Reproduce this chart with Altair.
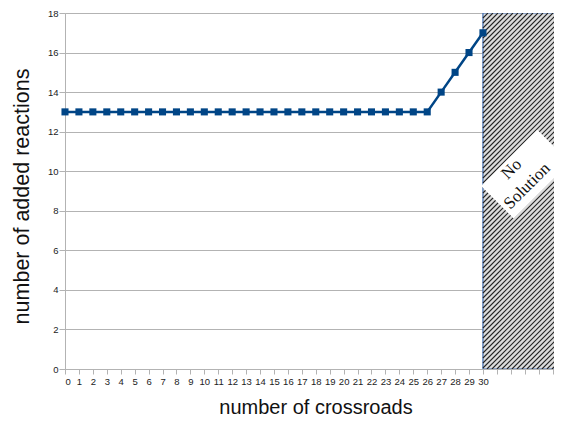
import altair as alt
import pandas as pd

# data
crossroads = list(range(0, 31))
added_reactions = [13] * 27 + [14, 15, 16, 17]
x_tick_values = list(range(0, 36))
y_tick_values = list(range(0, 19, 2))
note_lines = ["No", "Solution"]

X_MAX = 35.1
Y_MAX = 18
W, H = 489, 356
NO_SOL_START = 30

df = pd.DataFrame({"x": crossroads, "y": added_reactions})

xscale = alt.Scale(domain=[0, X_MAX], nice=False, zero=False)
yscale = alt.Scale(domain=[0, Y_MAX], nice=False)

# hatched "no solution" region
region = pd.DataFrame({"x": [NO_SOL_START], "x2": [X_MAX + 1], "y": [0], "y2": [Y_MAX]})

# hatch lines (45 degree decoration), computed in pixel space then mapped to data
px_per_x = W / X_MAX
px_per_y = H / Y_MAX
x0_px = NO_SOL_START * px_per_x
hatch = []
spacing = 5.0
p = x0_px - H
while p < W + 10:
    sx, sy = p, 0.0
    ex, ey = p + H, H
    if sx < x0_px:
        sy = x0_px - sx
        sx = x0_px
    if sy < H:
        hatch.append({"x": sx / px_per_x, "y": sy / px_per_y,
                      "x2": ex / px_per_x, "y2": ey / px_per_y})
    p += spacing
hatch_df = pd.DataFrame(hatch)

x_axis = alt.Axis(values=x_tick_values, title="number of crossroads",
                  labelExpr="datum.value <= 30 ? datum.label : ''",
                  labelOverlap=False, grid=False, domainColor="#b3b3b3",
                  tickColor="#b3b3b3", tickSize=5, labelFontSize=9.5, labelColor="#222",
                  labelFont="Liberation Sans", labelPadding=2,
                  titleFont="Liberation Sans", titleFontSize=20,
                  titleFontWeight="normal", titleColor="#111",
                  titleY=38, titleX=250.5,
                  titleBaseline="middle", titleAlign="center")
y_axis = alt.Axis(values=y_tick_values, title="number of added reactions",
                  labelOverlap=False, grid=True, gridColor="#b3b3b3",
                  domainColor="#b3b3b3", tickColor="#b3b3b3", tickSize=6,
                  labelFontSize=9.5, labelColor="#222", labelFont="Liberation Sans",
                  labelPadding=1, titleFont="Liberation Sans", titleFontSize=21.5,
                  titleFontWeight="normal", titleColor="#111",
                  titleX=-37, titleY=183, titleAngle=270,
                  titleAlign="center", titleBaseline="alphabetic")

X = alt.X("x:Q", scale=xscale, axis=x_axis)
Y = alt.Y("y:Q", scale=yscale, axis=y_axis)

rect = alt.Chart(region).mark_rect(fill="#dcdcdc", stroke="#3c6ab0", strokeWidth=1.2,
                                   clip=True).encode(
    x=X, x2="x2:Q", y=Y, y2="y2:Q")
hatch_rules = alt.Chart(hatch_df).mark_rule(color="#222", strokeWidth=1.1, clip=True).encode(
    x=X, x2="x2:Q", y=Y, y2="y2:Q")

diamond_df = pd.DataFrame({"x": [33.05], "y": [9.85]})
label_df = pd.DataFrame({"x": [32.05, 33.17], "y": [10.11, 9.25], "t": note_lines})
diamond = alt.Chart(diamond_df).mark_point(
    shape="M-1,-0.58 L1,-0.58 L1,0.58 L-1,0.58 Z", size=6300, angle=315,
    filled=True, fill="white", opacity=1, strokeWidth=0, clip=True).encode(x=X, y=Y)
txt = alt.Chart(label_df).mark_text(angle=315, font="Liberation Serif", fontSize=17,
                                    color="#111", align="center",
                                    baseline="middle").encode(
    x=X, y=Y, text="t:N")

line = alt.Chart(df).mark_line(color="#004586", strokeWidth=2.5).encode(x=X, y=Y)
pts = alt.Chart(df).mark_square(color="#004586", size=50, opacity=1).encode(x=X, y=Y)

chart = alt.layer(rect, hatch_rules, diamond, txt, line, pts).properties(
    width=W, height=H,
    autosize=alt.AutoSizeParams(type="none"),
    padding={"left": 57, "top": 5, "right": 0, "bottom": 48},
).configure_view(stroke=None).configure(background="white")

chart.save("out.html", embed_options={"renderer": "svg", "actions": False})
